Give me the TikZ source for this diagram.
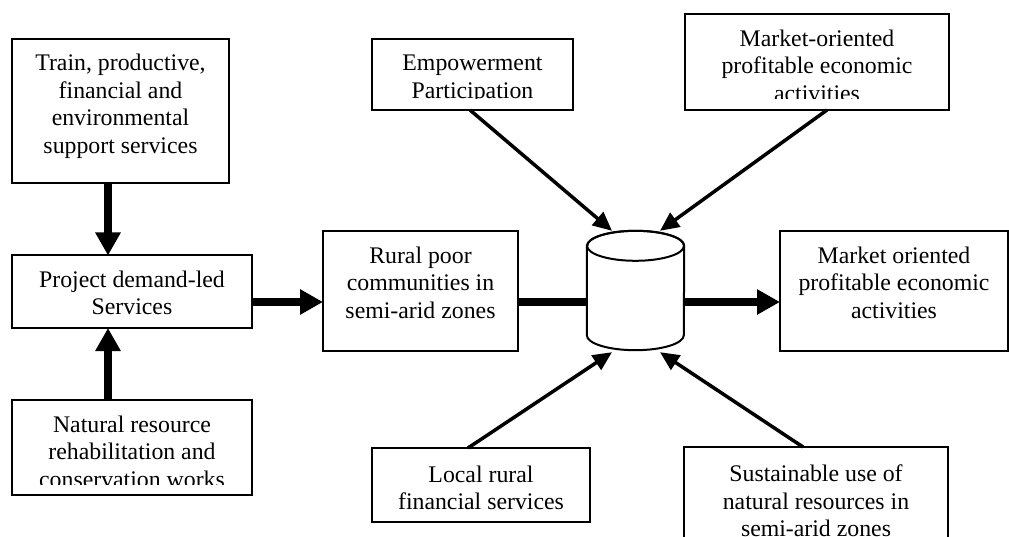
\documentclass[tikz,border=0pt]{standalone}
\usepackage{fontspec}
\setmainfont{Liberation Serif}
\usetikzlibrary{arrows.meta}
\newcommand\boxlines[2]{\parbox[t]{#1}{\centering #2}}
\begin{document}
\begin{tikzpicture}[x=1pt,y=-1pt,
  box/.style={draw, line width=2pt, rectangle, inner sep=0pt, outer sep=0pt, anchor=north west},
  boxtext/.style={anchor=base, inner sep=0pt, font=\fontsize{23.8pt}{27.5pt}\selectfont},
  fat/.style={line width=8pt, -{Triangle[length=23pt,width=24pt]}},
  fatbar/.style={line width=8pt},
  slim/.style={line width=3.5pt, -{Triangle[length=19pt,width=17pt]}},
  edge/.style={line width=2pt},
]
\useasboundingbox (0,0) rectangle (1009,537);

% helper coordinates for the straight connectors
\coordinate (mid) at (0,302);
\coordinate (ax) at (108,0);

% ---- left column ----
\node[box, minimum width=217pt, minimum height=144.4pt] (train) at (12,38.6) {};
\node[boxtext] (train-t) at (120.5,70.6)
  {\boxlines{210pt}{Train, productive,\\financial and\\environmental\\support services}};

\node[box, minimum width=240pt, minimum height=72.5pt] (project) at (12,255.5) {};
\node[boxtext] (project-t) at (132,287.5)
  {\boxlines{232pt}{Project demand-led\\Services}};

\node[box, minimum width=240pt, minimum height=95pt] (natural) at (12,400) {};
\begin{scope}
  \clip (natural.north west) rectangle ([yshift=11pt]natural.south east);
  \node[boxtext] (natural-t) at (132,432)
    {\boxlines{232pt}{Natural resource\\rehabilitation and\\conservation works}};
\end{scope}

% ---- middle ----
\node[box, minimum width=195pt, minimum height=120pt] (rural) at (323,231) {};
\node[boxtext] (rural-t) at (420.5,263.4)
  {\boxlines{190pt}{Rural poor\\communities in\\semi-arid zones}};

\node[box, minimum width=201pt, minimum height=71.4pt] (empower) at (372,38.6) {};
\begin{scope}
  \clip (empower.north west) rectangle ([yshift=11pt]empower.south east);
  \node[boxtext] (empower-t) at (472.5,71)
    {\boxlines{195pt}{Empowerment\\Participation}};
\end{scope}

\node[box, minimum width=218pt, minimum height=74pt] (local) at (372,448) {};
\node[boxtext] (local-t) at (481,482)
  {\boxlines{210pt}{Local rural\\financial services}};

% storage cylinder
\node[inner sep=0pt, minimum width=97pt, minimum height=119pt] (store) at (635.5,290.5) {};
\draw[edge, fill=white]
  ([yshift=-15pt]store.north west) -- ([yshift=15pt]store.south west)
  arc[start angle=180, end angle=360, x radius=48.5pt, y radius=15pt]
  -- ([yshift=-15pt]store.north east)
  arc[start angle=0, end angle=180, x radius=48.5pt, y radius=15pt] -- cycle;
\draw[edge] ([yshift=-15pt]store.north) ellipse[x radius=48.5pt, y radius=15pt];

% ---- right column ----
\node[box, minimum width=264pt, minimum height=96.2pt] (marketup) at (685,13.8) {};
\begin{scope}
  \clip (marketup.north west) rectangle ([yshift=11pt]marketup.south east);
  \node[boxtext] (marketup-t) at (817,46.5)
    {\boxlines{255pt}{Market-oriented\\profitable economic\\activities}};
\end{scope}

\node[box, minimum width=228pt, minimum height=120pt] (market) at (780,231) {};
\node[boxtext] (market-t) at (894,263.4)
  {\boxlines{222pt}{Market oriented\\profitable economic\\activities}};

\node[box, minimum width=264pt, minimum height=110pt] (sustain) at (684,447) {};
\node[boxtext] (sustain-t) at (816,481.5)
  {\boxlines{255pt}{Sustainable use of\\natural resources in\\semi-arid zones}};

% ---- connectors ----
\draw[fat] (train.south -| ax) -- (project.north -| ax);
\draw[fat] (natural.north -| ax) -- (project.south -| ax);
\draw[fat] (project.east |- mid) -- (rural.west |- mid);
\draw[fatbar] (rural.east |- mid) -- (store.west |- mid);
\draw[fat] (store.east |- mid) -- (market.west |- mid);

\draw[slim] ([xshift=-2.5pt]empower.south) -- ([xshift=-23.5pt]store.north);
\draw[slim] ([xshift=10pt]marketup.south) -- ([xshift=24.5pt]store.north);
\draw[slim] ([xshift=-13pt]local.north) -- ([xshift=-23.5pt,yshift=-2pt]store.south);
\draw[slim] ([xshift=-13pt]sustain.north) -- ([xshift=24.5pt,yshift=-2pt]store.south);
\end{tikzpicture}
\end{document}
